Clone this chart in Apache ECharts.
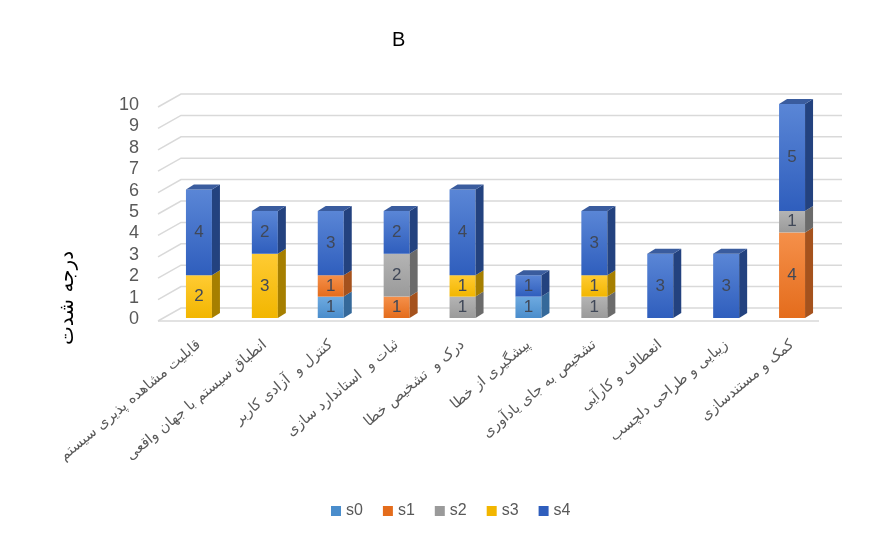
<!DOCTYPE html>
<html>
<head>
<meta charset="utf-8">
<script src="https://cdn.jsdelivr.net/npm/echarts@6/dist/echarts.min.js"></script>
<style>
  html, body { margin: 0; padding: 0; background: #fff; }
  #chart { width: 885px; height: 538px; }
</style>
</head>
<body>
<div id="chart"></div>
<script>
const categories = [
  'قابلیت مشاهده پذیری سیستم',
  'انطباق سیستم با جهان واقعی',
  'کنترل و  آزادی کاربر',
  'ثبات و  استاندارد سازی',
  'درک و  تشخیص خطا',
  'پیشگیری از خطا',
  'تشخیص به جای یادآوری',
  'انعطاف و کارآیی',
  'زیبایی و طراحی دلچسب',
  'کمک و مستندسازی'
]
const seriesNames = ['s0', 's1', 's2', 's3', 's4']
const s0 = [0, 0, 1, 0, 0, 1, 0, 0, 0, 0]
const s1 = [0, 0, 1, 1, 0, 0, 0, 0, 0, 4]
const s2 = [0, 0, 0, 2, 1, 0, 1, 0, 0, 1]
const s3 = [2, 3, 0, 0, 1, 0, 1, 0, 0, 0]
const s4 = [4, 2, 3, 2, 4, 1, 3, 3, 3, 5]
const yTicks = [0, 1, 2, 3, 4, 5, 6, 7, 8, 9, 10]

// front light, front dark, side, top
const palette = [
  ['#6eaae0', '#4a8dcc', '#35699a', '#4f82b6'],
  ['#f5904a', '#e46c1c', '#a5521d', '#c7682b'],
  ['#b4b4b4', '#9a9a9a', '#6b6b6b', '#858585'],
  ['#ffcb33', '#f2b600', '#a67f00', '#cf9d00'],
  ['#5a86d6', '#2f5ebd', '#23427f', '#3a5c9e']
]

const allSeries = [s0, s1, s2, s3, s4]
const totals = categories.map((c, i) => allSeries.reduce((p, s) => p + s[i], 0))

const chart = echarts.init(document.getElementById('chart'))

function renderGrid (params, api) {
  const cs = params.coordSys
  const v = api.value(0)
  const y = api.coord([0, v])[1]
  const xl = cs.x - 8
  const xb = cs.x + 15
  const xr = cs.x + cs.width + 17
  const children = [{
    type: 'polyline',
    shape: { points: [[xl, y + 2], [xb, y - 11], [xr, y - 11]] },
    style: { stroke: '#d9d9d9', lineWidth: 1.5, fill: null }
  }]
  if (v === 0) {
    children.push({
      type: 'line',
      shape: { x1: xl, y1: y + 2, x2: xr - 23, y2: y + 2 },
      style: { stroke: '#d9d9d9', lineWidth: 1.5 }
    })
  }
  return { type: 'group', children: children }
}

function renderBar (params, api) {
  const pal = palette[params.seriesIndex - 1]
  const cat = api.value(0)
  const base = api.value(1)
  const top = api.value(2)
  const val = api.value(3)
  const isTop = api.value(4)
  const pb = api.coord([cat, base])
  const pt = api.coord([cat, top])
  const w = 26, dx = 8, dy = 5
  const x0 = pb[0] - w / 2
  const x1 = x0 + w
  const yb = pb[1] - 1
  const yt = pt[1] - 1
  const children = [
    {
      type: 'rect',
      shape: { x: x0, y: yt, width: w, height: yb - yt },
      style: {
        fill: new echarts.graphic.LinearGradient(0, 0, 0, 1, [
          { offset: 0, color: pal[0] }, { offset: 1, color: pal[1] }
        ])
      }
    },
    {
      type: 'polygon',
      shape: { points: [[x1, yt], [x1 + dx, yt - dy], [x1 + dx, yb - dy], [x1, yb]] },
      style: { fill: pal[2] }
    }
  ]
  if (isTop) {
    children.push({
      type: 'polygon',
      shape: { points: [[x0, yt], [x0 + dx, yt - dy], [x1 + dx, yt - dy], [x1, yt]] },
      style: { fill: pal[3] }
    })
  }
  children.push({
    type: 'text',
    style: {
      text: String(val),
      x: (x0 + x1) / 2,
      y: (yt + yb) / 2,
      align: 'center',
      verticalAlign: 'middle',
      fill: '#404858',
      fontSize: 17,
      fontFamily: 'Liberation Sans'
    }
  })
  return { type: 'group', children: children }
}

const series = [{
  name: 'grid',
  type: 'custom',
  renderItem: renderGrid,
  data: yTicks.map(v => [v]),
  encode: { y: 0 },
  silent: true,
  clip: false,
  z: 1
}]

allSeries.forEach((arr, si) => {
  const data = []
  arr.forEach((v, i) => {
    if (!v) return
    let base = 0
    for (let k = 0; k < si; k++) base += allSeries[k][i]
    data.push([i, base, base + v, v, base + v === totals[i] ? 1 : 0])
  })
  series.push({
    name: seriesNames[si],
    type: 'custom',
    renderItem: renderBar,
    data: data,
    encode: { x: 0, y: [1, 2] },
    itemStyle: { color: palette[si][1] },
    clip: false,
    z: 2
  })
})

const option = {
  animation: false,
  title: {
    text: 'B',
    left: 387,
    top: 25,
    textStyle: { color: '#000', fontSize: 20, fontWeight: 'normal', fontFamily: 'Liberation Sans' }
  },
  legend: {
    data: seriesNames,
    left: 326,
    top: 498,
    icon: 'rect',
    itemWidth: 10,
    itemHeight: 10,
    itemGap: 20,
    textStyle: { color: '#595959', fontSize: 16, fontFamily: 'Liberation Sans' }
  },
  graphic: [{
    type: 'text',
    x: 68,
    y: 298,
    rotation: Math.PI / 2,
    style: {
      text: 'درجه شدت',
      align: 'center',
      verticalAlign: 'middle',
      fill: '#000',
      fontSize: 20,
      fontFamily: 'DejaVu Sans'
    }
  }],
  grid: { left: 166, right: 60, top: 105, bottom: 219 },
  xAxis: {
    type: 'category',
    data: categories,
    axisLine: { show: false },
    axisTick: { show: false },
    axisLabel: {
      interval: 0,
      rotate: 40,
      margin: 24,
      color: '#595959',
      fontSize: 14.5,
      fontFamily: 'DejaVu Sans'
    }
  },
  yAxis: {
    type: 'value',
    min: 0,
    max: 10,
    interval: 1,
    axisLine: { show: false },
    axisTick: { show: false },
    splitLine: { show: false },
    axisLabel: {
      margin: 27,
      color: '#595959',
      fontSize: 18,
      fontFamily: 'Liberation Sans'
    }
  },
  series: series
}

chart.setOption(option)
</script>
</body>
</html>
